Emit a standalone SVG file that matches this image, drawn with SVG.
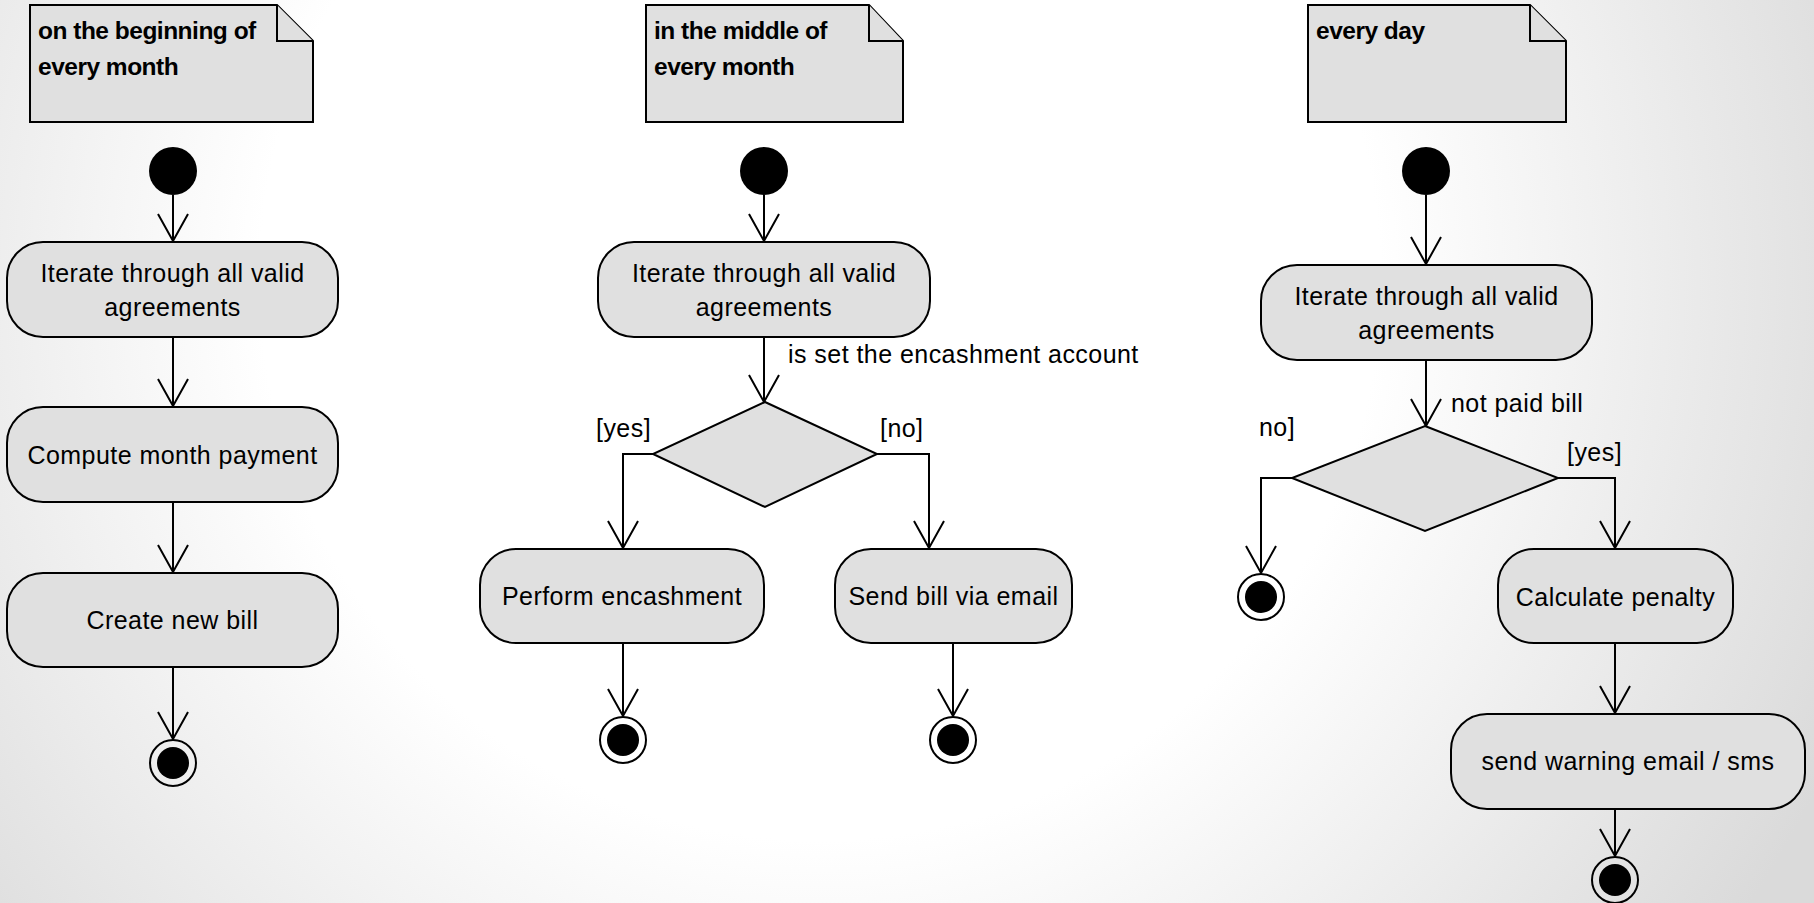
<svg xmlns="http://www.w3.org/2000/svg" width="1814" height="903" viewBox="0 0 1814 903">
<defs>
<radialGradient id="bg" gradientUnits="userSpaceOnUse" cx="820" cy="280" r="1120">
<stop offset="0" stop-color="#ffffff"/>
<stop offset="0.5" stop-color="#ffffff"/>
<stop offset="1" stop-color="#dadada"/>
</radialGradient>
<marker id="arr" markerUnits="userSpaceOnUse" viewBox="-30 -18 32 36" refX="0" refY="0" markerWidth="32" markerHeight="36" orient="auto" overflow="visible">
<path d="M-27,-15 L0,0 L-27,15" fill="none" stroke="#000" stroke-width="2"/>
</marker>
</defs>
<style>
.note{fill:#e0e0e0;stroke:#000;stroke-width:2;stroke-linejoin:miter}
.act{fill:#e0e0e0;stroke:#000;stroke-width:2}
.dec{fill:#e0e0e0;stroke:#000;stroke-width:2}
.start{fill:#000}
.fo{fill:none;stroke:#000;stroke-width:2}
.fi{fill:#000}
.nt{font-family:"Liberation Sans",Arial,sans-serif;font-weight:bold;font-size:24.5px;letter-spacing:-0.5px;fill:#000}
.t{font-family:"Liberation Sans",Arial,sans-serif;font-size:25px;letter-spacing:0.45px;fill:#000}
.c{text-anchor:middle}
.con{fill:none;stroke:#000;stroke-width:2;marker-end:url(#arr)}
</style>
<rect x="0" y="0" width="1814" height="903" fill="url(#bg)"/>

<g id="connectors">
<path class="con" d="M173,195 V241"/>
<path class="con" d="M173,337 V406"/>
<path class="con" d="M173,502 V572"/>
<path class="con" d="M173,667 V739"/>

<path class="con" d="M764,195 V241"/>
<path class="con" d="M764,337 V402"/>
<path class="con" d="M653,454 H623 V548"/>
<path class="con" d="M877,454 H929 V548"/>
<path class="con" d="M623,643 V716"/>
<path class="con" d="M953,643 V716"/>

<path class="con" d="M1426,195 V264"/>
<path class="con" d="M1426,360 V426"/>
<path class="con" d="M1292,478 H1261 V573"/>
<path class="con" d="M1558,478 H1615 V548"/>
<path class="con" d="M1615,643 V713"/>
<path class="con" d="M1615,809 V856"/>
</g>

<g id="labels">
<text class="t" x="788" y="363">is set the encashment account</text>
<text class="t" x="596" y="437">[yes]</text>
<text class="t" x="880" y="437">[no]</text>
<text class="t" x="1451" y="412">not paid bill</text>
<text class="t" x="1259" y="436">no]</text>
<text class="t" x="1567" y="461">[yes]</text>
</g>

<g id="note1">
<path class="note" d="M30,5 H277 L313,41 V122 H30 Z"/>
<path class="note" d="M277,5 V41 H313"/>
<text class="nt" x="38" y="39">on the beginning of</text>
<text class="nt" x="38" y="75">every month</text>
</g>
<g id="start1"><circle class="start" cx="173" cy="171" r="24"/></g>
<g id="act1a">
<rect class="act" x="7" y="242" width="331" height="95" rx="36" ry="36"/>
<text class="t c" x="172.5" y="282">Iterate through all valid</text>
<text class="t c" x="172.5" y="316">agreements</text>
</g>
<g id="act1b">
<rect class="act" x="7" y="407" width="331" height="95" rx="36" ry="36"/>
<text class="t c" x="172.5" y="464">Compute month payment</text>
</g>
<g id="act1c">
<rect class="act" x="7" y="573" width="331" height="94" rx="36" ry="36"/>
<text class="t c" x="172.5" y="629">Create new bill</text>
</g>
<g id="final1"><circle class="fo" cx="173" cy="763" r="23"/><circle class="fi" cx="173" cy="763" r="16"/></g>

<g id="note2">
<path class="note" d="M646,5 H869 L903,41 V122 H646 Z"/>
<path class="note" d="M869,5 V41 H903"/>
<text class="nt" x="654" y="39">in the middle of</text>
<text class="nt" x="654" y="75">every month</text>
</g>
<g id="start2"><circle class="start" cx="764" cy="171" r="24"/></g>
<g id="act2a">
<rect class="act" x="598" y="242" width="332" height="95" rx="36" ry="36"/>
<text class="t c" x="764" y="282">Iterate through all valid</text>
<text class="t c" x="764" y="316">agreements</text>
</g>
<g id="dec2"><path class="dec" d="M765,402 L877,454 L765,507 L653,454 Z"/></g>
<g id="act2b">
<rect class="act" x="480" y="549" width="284" height="94" rx="36" ry="36"/>
<text class="t c" x="622" y="605">Perform encashment</text>
</g>
<g id="act2c">
<rect class="act" x="835" y="549" width="237" height="94" rx="36" ry="36"/>
<text class="t c" x="953.5" y="605">Send bill via email</text>
</g>
<g id="final2a"><circle class="fo" cx="623" cy="740" r="23"/><circle class="fi" cx="623" cy="740" r="16"/></g>
<g id="final2b"><circle class="fo" cx="953" cy="740" r="23"/><circle class="fi" cx="953" cy="740" r="16"/></g>

<g id="note3">
<path class="note" d="M1308,5 H1530 L1566,41 V122 H1308 Z"/>
<path class="note" d="M1530,5 V41 H1566"/>
<text class="nt" x="1316" y="39">every day</text>
</g>
<g id="start3"><circle class="start" cx="1426" cy="171" r="24"/></g>
<g id="act3a">
<rect class="act" x="1261" y="265" width="331" height="95" rx="36" ry="36"/>
<text class="t c" x="1426.5" y="305">Iterate through all valid</text>
<text class="t c" x="1426.5" y="339">agreements</text>
</g>
<g id="dec3"><path class="dec" d="M1425,426 L1558,478 L1425,531 L1292,478 Z"/></g>
<g id="final3a"><circle class="fo" cx="1261" cy="597" r="23"/><circle class="fi" cx="1261" cy="597" r="16"/></g>
<g id="act3b">
<rect class="act" x="1498" y="549" width="235" height="94" rx="36" ry="36"/>
<text class="t c" x="1615.5" y="606">Calculate penalty</text>
</g>
<g id="act3c">
<rect class="act" x="1451" y="714" width="354" height="95" rx="36" ry="36"/>
<text class="t c" x="1628" y="770">send warning email / sms</text>
</g>
<g id="final3b"><circle class="fo" cx="1615" cy="880" r="23"/><circle class="fi" cx="1615" cy="880" r="16"/></g>
</svg>
